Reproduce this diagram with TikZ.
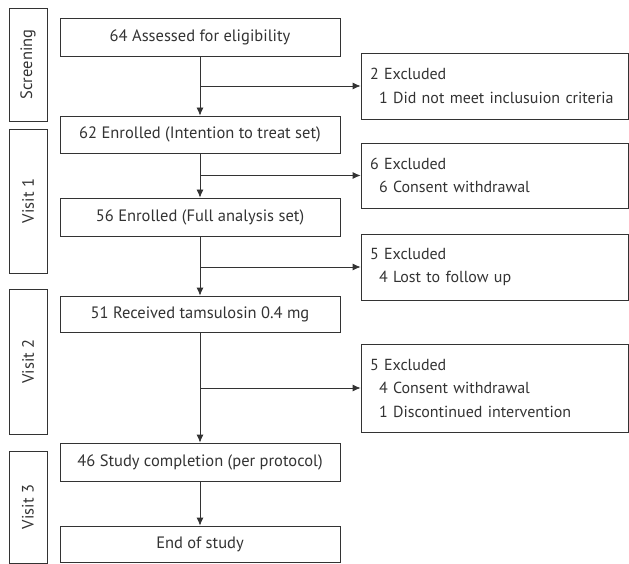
\documentclass[tikz,border=0pt]{standalone}
\usepackage{fontspec}
\setmainfont{PT Sans}
\usetikzlibrary{arrows.meta}
\definecolor{ink}{HTML}{333333}
\newcommand{\exline}[1]{\mbox{\hspace*{9pt}#1}}
\newcommand{\tightsp}{\spaceskip=3pt plus 1pt minus 1pt\relax}
\begin{document}
\begin{tikzpicture}[x=1pt,y=-1pt,
  every node/.style={font=\fontsize{16.5}{23.5}\selectfont, text=ink},
  mainbox/.style={draw=ink, line width=0.8pt, minimum width=280pt, inner sep=0pt},
  sidebox/.style={draw=ink, line width=0.8pt, minimum width=38pt, inner sep=0pt},
  excbox/.style={draw=ink, line width=0.8pt, minimum width=267pt, inner sep=0pt, text width=249pt, align=left,
    font=\fontsize{16}{23.5}\selectfont\tightsp},
  conn/.style={draw=ink, line width=0.8pt},
  arr/.style={conn, -{Latex[length=8pt,width=7pt]}},
  vlabel/.style={rotate=90, font=\fontsize{16.5}{18}\selectfont}]
\useasboundingbox (0,0) rectangle (629,564);
% side boxes
\node[sidebox, minimum height=113pt] (s0) at (28,64.5) {};
\node[vlabel] (s0t) at (s0) {Screening};
\node[sidebox, minimum height=144pt] (s1) at (28,201) {};
\node[vlabel] (s1t) at (s1) {Visit 1};
\node[sidebox, minimum height=145pt] (s2) at (28,361.5) {};
\node[vlabel] (s2t) at (s2) {Visit 2};
\node[sidebox, minimum height=112pt] (s3) at (28,507) {};
\node[vlabel] (s3t) at (s3) {Visit 3};
% main boxes
\node[mainbox, minimum height=38pt] (b1) at (200,37) {64 Assessed for eligibility};
\node[mainbox, minimum height=37pt] (b2) at (200,134.5) {62 Enrolled (Intention to treat set)};
\node[mainbox, minimum height=38pt] (b3) at (200,217) {56 Enrolled (Full analysis set)};
\node[mainbox, minimum height=36pt] (b4) at (200,314) {51 Received tamsulosin 0.4 mg};
\node[mainbox, minimum height=38pt] (b5) at (200,462) {46 Study completion (per protocol)};
\node[mainbox, minimum height=36pt] (b6) at (200,544) {End of study};
% exclusion boxes
\node[excbox, minimum height=66pt] (r1) at (494.5,86) {2 Excluded\\\exline{1 Did not meet inclusuion criteria}};
\node[excbox, minimum height=65pt] (r2) at (494.5,175.5) {6 Excluded\\\exline{6 Consent withdrawal}};
\node[excbox, minimum height=66pt] (r3) at (494.5,267) {5 Excluded\\\exline{4 Lost to follow up}};
\node[excbox, minimum height=88pt] (r4) at (494.5,388) {5 Excluded\\\exline{4 Consent withdrawal}\\\exline{1 Discontinued intervention}};
% connectors
\draw[arr] (b1) -- (b2);
\draw[arr] (b2) -- (b3);
\draw[arr] (b3) -- (b4);
\draw[arr] (b4) -- (b5);
\draw[arr] (b5) -- (b6);
\draw[arr] (b1.south |- r1.west) -- (r1.west);
\draw[arr] (b2.south |- r2.west) -- (r2.west);
\draw[arr] (b3.south |- r3.west) -- (r3.west);
\draw[arr] (b4.south |- r4.west) -- (r4.west);
\end{tikzpicture}
\end{document}
